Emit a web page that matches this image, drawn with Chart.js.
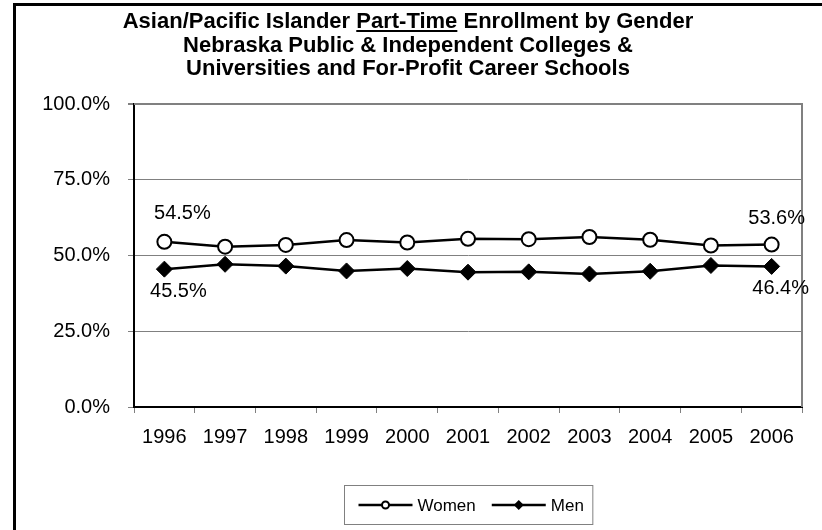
<!DOCTYPE html>
<html>
<head>
<meta charset="utf-8">
<script src="https://cdn.jsdelivr.net/npm/chart.js@4"></script>
<style>
  body { margin: 0; background: #fff; }
  #wrap { position: relative; width: 822px; height: 530px; overflow: hidden; }
  #frame {
    position: absolute; left: 13px; top: 3px; width: 900px; height: 600px;
    border-left: 3px solid #000; border-top: 3px solid #000; pointer-events: none;
  }
  #title {
    position: absolute; left: 0; top: 9px; width: 816px; text-align: center;
    font: bold 22px "Liberation Sans", Arial, sans-serif; line-height: 23.5px; color: #000;
  }
  canvas { position: absolute; left: 0; top: 0; }
</style>
</head>
<body>
<div id="wrap">
  <canvas id="chart1" width="822" height="530"></canvas>
  <div id="title">Asian/Pacific Islander <u>Part-Time</u> Enrollment by Gender<br>Nebraska Public &amp; Independent Colleges &amp;<br>Universities and For-Profit Career Schools</div>
  <div id="frame"></div>
</div>
<script>
let years = ["1996", "1997", "1998", "1999", "2000", "2001", "2002", "2003", "2004", "2005", "2006"];
let women = [54.5, 52.9, 53.5, 55.1, 54.3, 55.5, 55.4, 56.1, 55.2, 53.3, 53.6];
let men = [45.5, 47.1, 46.5, 44.9, 45.7, 44.5, 44.6, 43.9, 44.8, 46.7, 46.4];
let yTicks = [0, 25, 50, 75, 100];

const FONT = "'Liberation Sans', Arial, sans-serif";

// gray frame on top / right of the plot area
let plotFrame = {
  id: "plotFrame",
  beforeDatasetsDraw(chart) {
    let a = chart.chartArea;
    let ctx = chart.ctx;
    ctx.save();
    ctx.strokeStyle = "#808080";
    ctx.lineWidth = 2;
    ctx.beginPath();
    ctx.moveTo(a.left, a.top);
    ctx.lineTo(a.right, a.top);
    ctx.lineTo(a.right, a.bottom);
    ctx.stroke();
    ctx.restore();
  },
};

// end labels: first and last point of each series
let endLabels = {
  id: "endLabels",
  afterDatasetsDraw(chart) {
    let ctx = chart.ctx;
    ctx.save();
    ctx.font = "20px " + FONT;
    ctx.fillStyle = "#000";
    ctx.textAlign = "center";
    ctx.textBaseline = "middle";
    chart.data.datasets.forEach((ds, i) => {
      let pts = chart.getDatasetMeta(i).data;
      let above = i === 0;
      let first = pts[0], last = pts[pts.length - 1];
      let n = ds.data.length - 1;
      ctx.fillText(ds.data[0].toFixed(1) + "%", first.x + (above ? 18 : 14), first.y + (above ? -28 : 22));
      ctx.fillText(ds.data[n].toFixed(1) + "%", last.x + (above ? 5 : 9), last.y + (above ? -26 : 22));
    });
    ctx.restore();
  },
};

// excel style boxed legend under the chart
let boxLegend = {
  id: "boxLegend",
  afterDraw(chart) {
    let ctx = chart.ctx;
    let a = chart.chartArea;
    ctx.save();
    ctx.font = "17px " + FONT;
    let sample = 54, gap = 5, between = 16, padL = 14, padR = 9;
    let items = chart.data.datasets.map((ds) => ({ ds, w: ctx.measureText(ds.label).width }));
    let total = padL + padR;
    items.forEach((it, k) => {
      total += sample + gap + it.w + (k < items.length - 1 ? between : 0);
    });
    let cx = (a.left + a.right) / 2;
    let x0 = Math.round(cx - total / 2) + 0.5;
    let top = 485.5, h = 39;
    ctx.strokeStyle = "#808080";
    ctx.lineWidth = 1;
    ctx.strokeRect(x0, top, total, h);
    let y = top + h / 2;
    let x = x0 + padL;
    items.forEach((it) => {
      let ds = it.ds;
      ctx.strokeStyle = "#000";
      ctx.lineWidth = 2.5;
      ctx.beginPath();
      ctx.moveTo(x, y);
      ctx.lineTo(x + sample, y);
      ctx.stroke();
      let mx = x + sample / 2;
      ctx.lineWidth = 2;
      ctx.beginPath();
      if (ds.pointStyle === "circle") {
        ctx.arc(mx, y, 3.5, 0, Math.PI * 2);
        ctx.fillStyle = "#fff";
        ctx.fill();
        ctx.stroke();
      } else {
        ctx.moveTo(mx - 5, y);
        ctx.lineTo(mx, y - 5);
        ctx.lineTo(mx + 5, y);
        ctx.lineTo(mx, y + 5);
        ctx.closePath();
        ctx.fillStyle = "#000";
        ctx.fill();
      }
      ctx.fillStyle = "#000";
      ctx.textAlign = "left";
      ctx.textBaseline = "middle";
      ctx.fillText(ds.label, x + sample + gap, y + 1);
      x += sample + gap + it.w + between;
    });
    ctx.restore();
  },
};

let chart1 = document.getElementById("chart1");
let config1 = {
  type: "line",
  data: {
    labels: years,
    datasets: [
      {
        label: "Women",
        data: women,
        borderColor: "#000",
        borderWidth: 2.5,
        pointStyle: "circle",
        pointRadius: 7,
        pointBorderWidth: 2,
        pointBackgroundColor: "#fff",
        pointBorderColor: "#000",
        tension: 0,
      },
      {
        label: "Men",
        data: men,
        borderColor: "#000",
        borderWidth: 2.5,
        pointStyle: "rectRot",
        pointRadius: 8,
        pointBorderWidth: 1,
        pointBackgroundColor: "#000",
        pointBorderColor: "#000",
        tension: 0,
      },
    ],
  },
  options: {
    responsive: false,
    animation: false,
    clip: false,
    layout: {
      padding: { top: 104, right: 20, bottom: 0, left: 0 },
    },
    scales: {
      y: {
        min: 0,
        max: 100,
        afterFit: (s) => { s.width = 134; },
        afterBuildTicks: (s) => { s.ticks = yTicks.map((v) => ({ value: v })); },
        border: { color: "#000", width: 2 },
        grid: {
          color: "#808080",
          lineWidth: (c) => (c.tick && c.tick.value === 100 ? 2 : 1),
          tickLength: 6,
        },
        ticks: {
          color: "#000",
          padding: 18,
          font: { family: FONT, size: 20 },
          callback: (v) => v.toFixed(1) + "%",
        },
      },
      x: {
        offset: true,
        afterFit: (s) => { s.height = 123; },
        border: { color: "#000", width: 2 },
        grid: {
          offset: true,
          drawOnChartArea: false,
          color: "#808080",
          tickLength: 6,
        },
        ticks: {
          color: "#000",
          padding: 12,
          maxRotation: 0,
          autoSkip: false,
          font: { family: FONT, size: 20 },
        },
      },
    },
    plugins: {
      legend: { display: false },
      tooltip: { enabled: false },
      title: { display: false },
    },
  },
  plugins: [plotFrame, endLabels, boxLegend],
};

let lineChart = new Chart(chart1, config1);
</script>
</body>
</html>
